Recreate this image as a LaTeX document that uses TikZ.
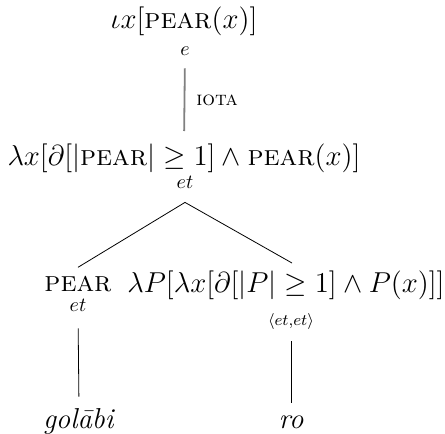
\documentclass[tikz,border=0pt]{standalone}
\usepackage{amsmath}
\begin{document}
\begin{tikzpicture}[x=0.5pt,y=-0.5pt,
  sem/.style={anchor=base,inner sep=0pt,font=\Large},
  typ/.style={anchor=base,inner sep=0pt,font=\normalsize},
  iotaline/.style={draw=gray,line width=0.9pt}]
\useasboundingbox (0,0) rectangle (445,434);

% Top: iota
\node[sem] (top) at (184,28) {$\iota x[\text{\textsc{pear}}(x)]$};
\node[typ] (toptype) at (185,55) {$e$};

% Middle
\node[sem] (mid) at (184,165) {$\lambda x[\partial[|\text{\textsc{pear}}| \geq 1] \wedge \text{\textsc{pear}}(x)]$};
\node[typ] (midtype) at (185,188) {$et$};

% Type shift
\draw[iotaline,shorten <=6.5pt,shorten >=6pt] (toptype.south) -- (mid.north);
\node[anchor=west,inner sep=0pt] (iota) at (196,100) {\textsc{iota}};

% Bottom left and right
\node[sem] (pear) at (78,291) {\textsc{pear}};
\node[typ] (peartype) at (78,311) {$et$};
\node[sem] (lamP) at (286,292) {$\lambda P[\lambda x[\partial[|P| \geq 1] \wedge P(x)]]$};
\node[typ,font=\footnotesize] (lamPtype) at (291,325) {$\langle et{,}et\rangle$};

% Branching
\coordinate (apex) at ([yshift=-7pt]midtype.south);
\draw ([yshift=4pt]pear.north) -- (apex) -- ([xshift=3pt,yshift=3.5pt]lamP.north);

% Words
\node[sem] (golabi) at (79,428) {\textit{gol\={a}bi}};
\node[sem] (ro) at (291,428) {\textit{ro}};
\draw[shorten <=8.5pt,shorten >=5.5pt] (peartype.south) -- (golabi.north);
\draw[shorten <=6pt,shorten >=6pt] (lamPtype.south) -- (ro.north);

\end{tikzpicture}
\end{document}
